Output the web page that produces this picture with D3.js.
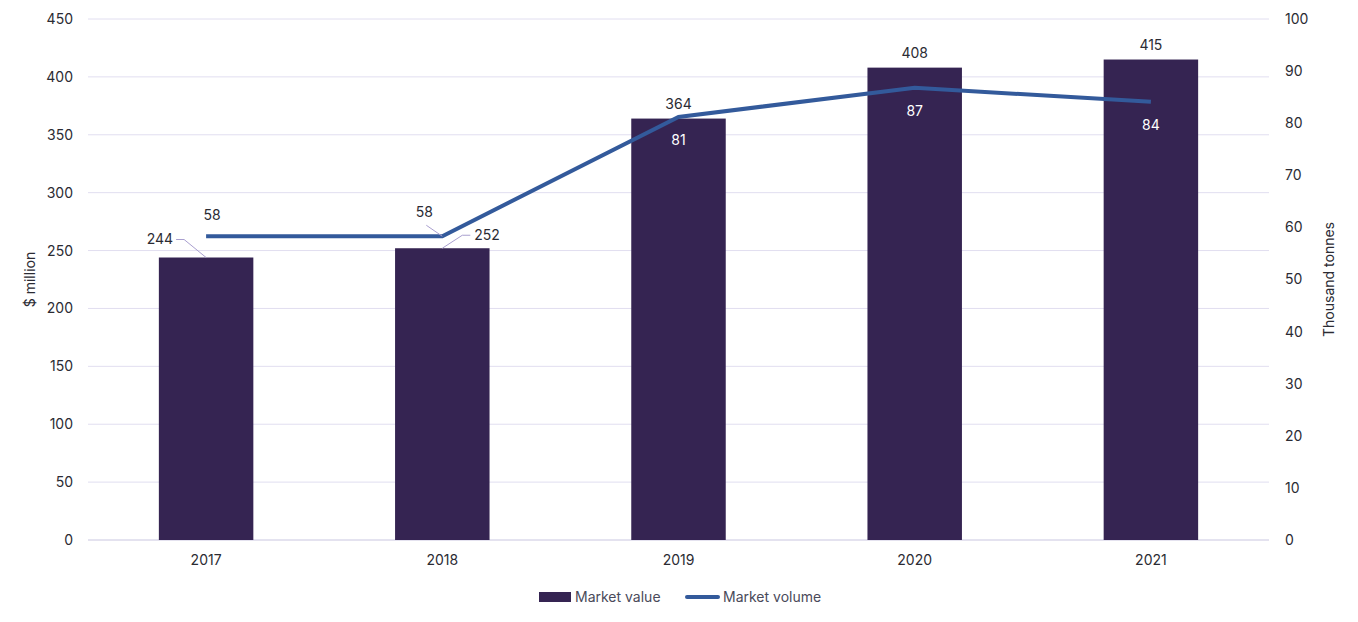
<!DOCTYPE html>
<html>
<head>
<meta charset="utf-8">
<script src="https://cdn.jsdelivr.net/npm/d3@7"></script>
<style>
  body { margin: 0; background: #fff; }
  text { font-family: "Inter", "Roboto", sans-serif; }
</style>
</head>
<body>
<div id="chart"></div>
<script>
// Chart data
const years = ["2017", "2018", "2019", "2020", "2021"];
const marketValue = [244, 252, 364, 408, 415];     // $ million
const marketVolume = [58.3, 58.3, 81.2, 86.8, 84.1]; // thousand tonnes
const volumeLabels = ["58", "58", "81", "87", "84"];
const leftTicks = [0, 50, 100, 150, 200, 250, 300, 350, 400, 450];
const rightTicks = [0, 10, 20, 30, 40, 50, 60, 70, 80, 90, 100];

const width = 1358;
const height = 622;
const margin = { top: 19, right: 89, bottom: 82, left: 88 };

const svg = d3.select("#chart")
    .append("svg")
    .attr("width", width)
    .attr("height", height);

const x = d3.scaleBand()
    .domain(years)
    .range([margin.left, width - margin.right])
    .paddingInner(0.6)
    .paddingOuter(0.3);

const yLeft = d3.scaleLinear()
    .domain([0, 450])
    .range([height - margin.bottom, margin.top]);

const yRight = d3.scaleLinear()
    .domain([0, 100])
    .range([height - margin.bottom, margin.top]);

// gridlines
svg.append("g")
    .selectAll("line")
    .data(leftTicks)
    .enter()
    .append("line")
    .attr("x1", margin.left)
    .attr("x2", width - margin.right)
    .attr("y1", d => yLeft(d))
    .attr("y2", d => yLeft(d))
    .attr("stroke", d => d === 0 ? "#c9c6e0" : "#e1def0")
    .attr("stroke-width", 1);

// left axis
const leftAxis = svg.append("g")
    .attr("transform", `translate(${margin.left - 15},0)`)
    .call(d3.axisLeft(yLeft).tickValues(leftTicks).tickSize(0).tickPadding(0));
leftAxis.select(".domain").remove();
leftAxis.selectAll("text")
    .attr("font-size", "14px")
    .attr("fill", "#2b2b33");

// right axis
const rightAxis = svg.append("g")
    .attr("transform", `translate(${width - margin.right + 16},0)`)
    .call(d3.axisRight(yRight).tickValues(rightTicks).tickSize(0).tickPadding(0));
rightAxis.select(".domain").remove();
rightAxis.selectAll("text")
    .attr("font-size", "14px")
    .attr("fill", "#2b2b33");

// x axis
const xAxis = svg.append("g")
    .attr("transform", `translate(0,${height - margin.bottom + 15})`)
    .call(d3.axisBottom(x).tickSize(0).tickPadding(0));
xAxis.select(".domain").remove();
xAxis.selectAll("text")
    .attr("font-size", "14px")
    .attr("dy", "0.71em")
    .attr("fill", "#2b2b33");

// axis titles
svg.append("text")
    .attr("transform", `translate(35,${yLeft(225)}) rotate(-90)`)
    .attr("text-anchor", "middle")
    .attr("font-size", "14px")
    .attr("fill", "#2b2b33")
    .text("$ million");

svg.append("text")
    .attr("transform", `translate(1334,${yRight(50)}) rotate(-90)`)
    .attr("text-anchor", "middle")
    .attr("font-size", "14px")
    .attr("fill", "#2b2b33")
    .text("Thousand tonnes");

// bars
svg.append("g")
    .selectAll("rect")
    .data(marketValue)
    .enter()
    .append("rect")
    .attr("x", (d, i) => x(years[i]))
    .attr("y", d => yLeft(d))
    .attr("width", x.bandwidth())
    .attr("height", d => yLeft(0) - yLeft(d))
    .attr("fill", "#352452");

// line
const line = d3.line()
    .x((d, i) => x(years[i]) + x.bandwidth() / 2)
    .y(d => yRight(d));

svg.append("path")
    .datum(marketVolume)
    .attr("d", line)
    .attr("fill", "none")
    .attr("stroke", "#335a9b")
    .attr("stroke-width", 4);

const cx = i => x(years[i]) + x.bandwidth() / 2;
const leader = "#a99fcf";

// bar labels
marketValue.forEach((v, i) => {
    const by = yLeft(v);
    if (i === 0) {
        // leader to the left
        svg.append("polyline")
            .attr("points", `${cx(i)},${by} ${cx(i) - 22},${by - 18} ${cx(i) - 30},${by - 18}`)
            .attr("fill", "none").attr("stroke", leader).attr("stroke-width", 1);
        svg.append("text")
            .attr("x", cx(i) - 33).attr("y", by - 18).attr("dy", "0.35em")
            .attr("text-anchor", "end").attr("font-size", "14px").attr("fill", "#2b2b33")
            .text(v);
    } else if (i === 1) {
        svg.append("polyline")
            .attr("points", `${cx(i)},${by} ${cx(i) + 20},${by - 13} ${cx(i) + 28},${by - 13}`)
            .attr("fill", "none").attr("stroke", leader).attr("stroke-width", 1);
        svg.append("text")
            .attr("x", cx(i) + 32).attr("y", by - 13).attr("dy", "0.35em")
            .attr("text-anchor", "start").attr("font-size", "14px").attr("fill", "#2b2b33")
            .text(v);
    } else {
        svg.append("text")
            .attr("x", cx(i)).attr("y", by - 10)
            .attr("text-anchor", "middle").attr("font-size", "14px").attr("fill", "#2b2b33")
            .text(v);
    }
});

// line labels
marketVolume.forEach((v, i) => {
    const ly = yRight(v);
    if (i === 0) {
        svg.append("text")
            .attr("x", cx(i) + 6).attr("y", ly - 16)
            .attr("text-anchor", "middle").attr("font-size", "14px").attr("fill", "#2b2b33")
            .text(volumeLabels[i]);
    } else if (i === 1) {
        svg.append("line")
            .attr("x1", cx(i)).attr("y1", ly)
            .attr("x2", cx(i) - 16).attr("y2", ly - 11)
            .attr("stroke", leader).attr("stroke-width", 1);
        svg.append("text")
            .attr("x", cx(i) - 18).attr("y", ly - 19)
            .attr("text-anchor", "middle").attr("font-size", "14px").attr("fill", "#2b2b33")
            .text(volumeLabels[i]);
    } else {
        svg.append("text")
            .attr("x", cx(i)).attr("y", ly + 28)
            .attr("text-anchor", "middle").attr("font-size", "14px").attr("fill", "#ffffff")
            .text(volumeLabels[i]);
    }
});

// legend
const legend = svg.append("g").attr("transform", "translate(539,597)");
legend.append("rect")
    .attr("x", 0).attr("y", -5).attr("width", 32).attr("height", 10)
    .attr("fill", "#352452");
legend.append("text")
    .attr("x", 36).attr("y", 0).attr("dy", "0.35em")
    .attr("font-size", "14px").attr("fill", "#4a4a5a")
    .text("Market value");
legend.append("line")
    .attr("x1", 148).attr("x2", 179).attr("y1", 0).attr("y2", 0)
    .attr("stroke", "#335a9b").attr("stroke-width", 4).attr("stroke-linecap", "round");
legend.append("text")
    .attr("x", 184).attr("y", 0).attr("dy", "0.35em")
    .attr("font-size", "14px").attr("fill", "#4a4a5a")
    .text("Market volume");
</script>
</body>
</html>
